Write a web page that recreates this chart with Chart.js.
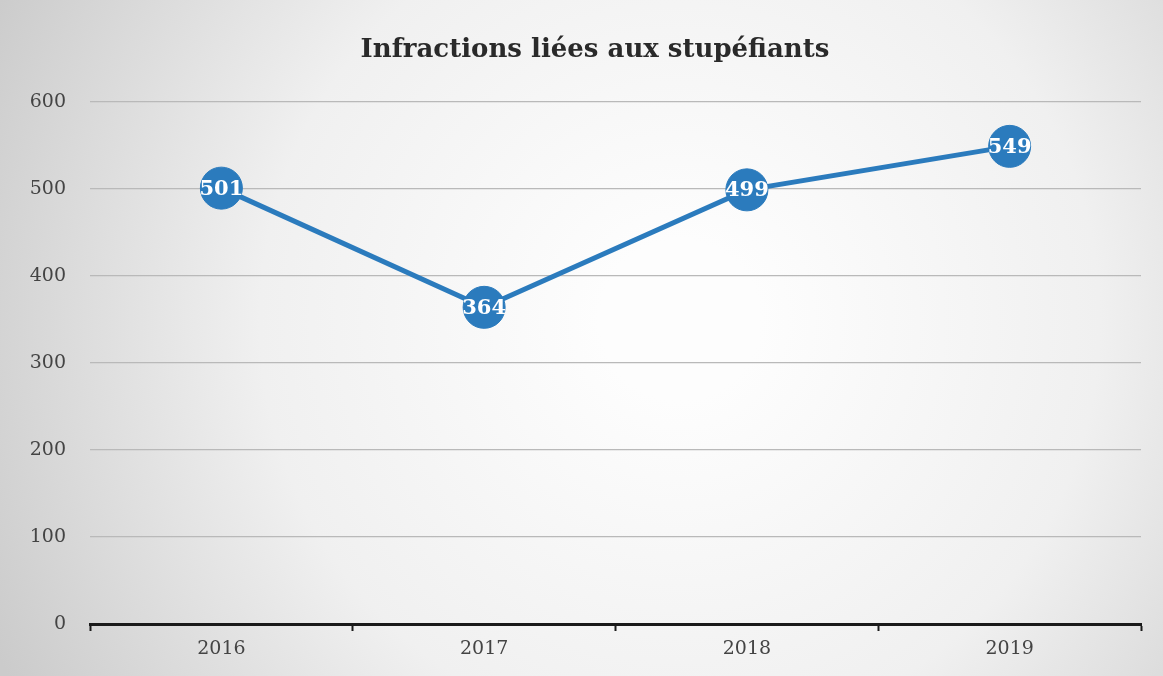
<!DOCTYPE html>
<html>
<head>
<meta charset="utf-8">
<script src="https://cdn.jsdelivr.net/npm/chart.js@4"></script>
<style>
  html, body { margin: 0; padding: 0; background: #e6e6e6; overflow: hidden; }
  #wrap { width: 1163px; height: 676px; }
</style>
</head>
<body>
<div id="wrap"><canvas id="chart"></canvas></div>
<script>
const years = ['2016', '2017', '2018', '2019'];
const infractions = [501, 364, 499, 549];
const yTicks = [0, 100, 200, 300, 400, 500, 600];
const chartTitle = 'Infractions liées aux stupéfiants';

const blue = '#2b7bbd';

// scanned-paper look: light centre, greyer edges
const paperBg = {
    id: 'paperBg',
    beforeDraw(chart) {
        const c = chart.ctx;
        const w = chart.width, h = chart.height;
        const g = c.createRadialGradient(680, 320, 80, 680, 320, 760);
        g.addColorStop(0, '#fdfdfd');
        g.addColorStop(0.5, '#f0f0f0');
        g.addColorStop(1, '#cbcbcb');
        c.save();
        c.fillStyle = g;
        c.fillRect(0, 0, w, h);
        c.restore();
    }
};

// title, a little left of the plot centre as in the original
const plotTitle = {
    id: 'plotTitle',
    afterDraw(chart) {
        const c = chart.ctx;
        c.save();
        c.fillStyle = '#2a2a2a';
        c.font = 'bold 26px "DejaVu Serif", serif';
        c.textAlign = 'center';
        c.textBaseline = 'middle';
        c.fillText(chartTitle, 595, 50);
        c.restore();
    }
};

// value written inside each marker
const pointLabels = {
    id: 'pointLabels',
    afterDatasetsDraw(chart) {
        const c = chart.ctx;
        const meta = chart.getDatasetMeta(0);
        c.save();
        c.fillStyle = '#ffffff';
        c.font = 'bold 21px "DejaVu Serif", serif';
        c.textAlign = 'center';
        c.textBaseline = 'middle';
        meta.data.forEach((pt, i) => {
            c.fillText(infractions[i], pt.x, pt.y + 1);
        });
        c.restore();
    }
};

new Chart(document.getElementById('chart'), {
    type: 'line',
    data: {
        labels: years,
        datasets: [{
            data: infractions,
            borderColor: blue,
            backgroundColor: blue,
            borderWidth: 5,
            pointRadius: 21,
            pointHoverRadius: 21,
            pointBackgroundColor: blue,
            pointBorderColor: blue,
            pointBorderWidth: 1,
            tension: 0
        }]
    },
    options: {
        responsive: true,
        maintainAspectRatio: false,
        animation: false,
        layout: { padding: { top: 102, right: 17, bottom: 0, left: 0 } },
        plugins: {
            legend: { display: false },
            tooltip: { enabled: false },
            title: { display: false }
        },
        scales: {
            x: {
                offset: true,
                grid: {
                    offset: true,
                    display: true,
                    drawOnChartArea: false,
                    drawTicks: true,
                    tickLength: 7,
                    tickWidth: 2,
                    tickColor: '#1a1a1a'
                },
                border: { display: true, color: '#1a1a1a', width: 3 },
                ticks: {
                    color: '#444',
                    padding: 7,
                    font: { family: '"DejaVu Serif", serif', size: 19 }
                },
                afterFit(scale) {
                    scale.height = 52;
                    scale.paddingLeft = 0;
                    scale.paddingRight = 0;
                }
            },
            y: {
                min: 0,
                max: 600,
                afterBuildTicks(scale) {
                    scale.ticks = yTicks.map(v => ({ value: v }));
                },
                grid: {
                    color: '#b9b9b9',
                    lineWidth: 1.3,
                    drawTicks: false
                },
                border: { display: false },
                ticks: {
                    color: '#444',
                    padding: 24,
                    font: { family: '"DejaVu Serif", serif', size: 19 }
                },
                afterFit(scale) { scale.width = 90; }
            }
        }
    },
    plugins: [paperBg, plotTitle, pointLabels]
});
</script>
</body>
</html>
